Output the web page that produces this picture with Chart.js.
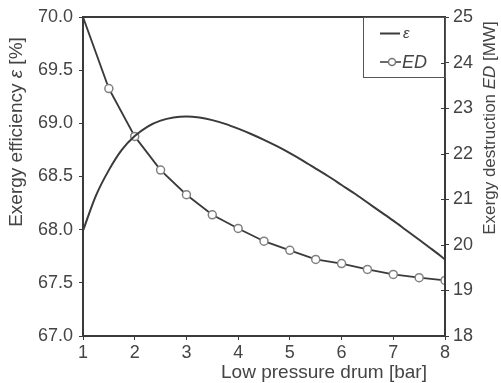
<!DOCTYPE html>
<html>
<head>
<meta charset="utf-8">
<script src="https://cdn.jsdelivr.net/npm/chart.js@4.4.1/dist/chart.umd.min.js"></script>
<style>
  html, body { margin: 0; padding: 0; background: #fff; }
  #wrap { width: 501px; height: 383px; }
</style>
</head>
<body>
<div id="wrap"><canvas id="chart"></canvas></div>
<script>
// Low pressure drum pressure [bar] for the efficiency curve
const pressure = [1, 1.25, 1.5, 1.75, 2, 2.25, 2.5, 2.75, 3, 3.25, 3.5, 3.75, 4, 4.25, 4.5,
  4.75, 5, 5.25, 5.5, 5.75, 6, 6.25, 6.5, 6.75, 7, 7.25, 7.5, 7.75, 8];
// Exergy efficiency [%]
const efficiency = [67.99, 68.32, 68.56, 68.75, 68.88, 68.97, 69.025, 69.055, 69.065, 69.055,
  69.03, 68.995, 68.95, 68.90, 68.845, 68.785, 68.72, 68.65, 68.575, 68.50, 68.42, 68.34,
  68.255, 68.17, 68.085, 67.995, 67.905, 67.815, 67.72];
// pressure points with markers, and exergy destruction [MW]
const edPressure = [1, 1.5, 2, 2.5, 3, 3.5, 4, 4.5, 5, 5.5, 6, 6.5, 7, 7.5, 8];
const destruction = [25.0, 23.43, 22.38, 21.64, 21.10, 20.66, 20.36, 20.08, 19.88, 19.68, 19.59,
  19.46, 19.35, 19.28, 19.22];

const xTitle = 'Low pressure drum [bar]';
const leftTitle = [['Exergy efficiency ', false], ['ε', true], [' [%]', false]];
const rightTitle = [['Exergy destruction ', false], ['ED', true], [' [MW]', false]];

const ink = '#3a3a3a';
const textCol = '#444';
const fam = '"Liberation Sans", Arial, sans-serif';

function drawRich(ctx, parts, size, cx, cy, rot) {
  ctx.save();
  ctx.translate(cx, cy);
  ctx.rotate(rot);
  ctx.fillStyle = textCol;
  ctx.textBaseline = 'middle';
  ctx.textAlign = 'left';
  let total = 0;
  parts.forEach(p => {
    ctx.font = (p[1] ? 'italic ' : '') + size + 'px ' + fam;
    total += ctx.measureText(p[0]).width;
  });
  let x = -total / 2;
  parts.forEach(p => {
    ctx.font = (p[1] ? 'italic ' : '') + size + 'px ' + fam;
    ctx.fillText(p[0], x, 0);
    x += ctx.measureText(p[0]).width;
  });
  ctx.restore();
}

const decor = {
  id: 'decor',
  afterDraw(chart) {
    const ctx = chart.ctx;
    const a = chart.chartArea;
    ctx.save();
    // frame around the plot
    ctx.strokeStyle = ink;
    ctx.lineWidth = 2;
    ctx.strokeRect(a.left, a.top, a.right - a.left, a.bottom - a.top);

    // right axis ticks also poke inside the frame
    const r = chart.scales.y2;
    ctx.lineWidth = 1;
    r.ticks.forEach(t => {
      const py = Math.round(r.getPixelForValue(t.value)) + 0.5;
      ctx.beginPath();
      ctx.moveTo(a.right - 4, py);
      ctx.lineTo(a.right, py);
      ctx.stroke();
    });

    // titles
    drawRich(ctx, leftTitle, 19, 17, 132, -Math.PI / 2);
    drawRich(ctx, rightTitle, 17, 490, 128, -Math.PI / 2);
    drawRich(ctx, [[xTitle, false]], 19, 324, 373, 0);

    // legend box
    const bx = a.right - 82, by = a.top, bw = 82, bh = 60;
    ctx.strokeStyle = '#555';
    ctx.lineWidth = 1;
    ctx.strokeRect(bx + 0.5, by + 0.5, bw, bh);
    const ds = chart.data.datasets;
    ctx.strokeStyle = ink;
    ctx.lineWidth = 2;
    ctx.beginPath();
    ctx.moveTo(bx + 17, by + 16.5);
    ctx.lineTo(bx + 37, by + 16.5);
    ctx.stroke();
    ctx.lineWidth = 1.5;
    ctx.beginPath();
    ctx.moveTo(bx + 17, by + 45);
    ctx.lineTo(bx + 38, by + 45);
    ctx.stroke();
    ctx.beginPath();
    ctx.arc(bx + 29, by + 45, 3.5, 0, Math.PI * 2);
    ctx.fillStyle = '#fff';
    ctx.fill();
    ctx.strokeStyle = '#777';
    ctx.stroke();
    ctx.fillStyle = textCol;
    ctx.textBaseline = 'middle';
    ctx.font = 'italic 15px ' + fam;
    ctx.fillText(ds[0].label, bx + 40, by + 17);
    ctx.font = 'italic 18px ' + fam;
    ctx.fillText(ds[1].label, bx + 39, by + 46);
    ctx.restore();
  }
};

const tickFont = { family: fam, size: 18 };

new Chart(document.getElementById('chart'), {
  type: 'line',
  data: {
    datasets: [{
      label: 'ε',
      data: pressure.map((p, i) => ({ x: p, y: efficiency[i] })),
      yAxisID: 'y',
      borderColor: ink,
      borderWidth: 2,
      pointRadius: 0,
      cubicInterpolationMode: 'monotone'
    }, {
      label: 'ED',
      data: edPressure.map((p, i) => ({ x: p, y: destruction[i] })),
      yAxisID: 'y2',
      borderColor: ink,
      borderWidth: 1.8,
      pointRadius: edPressure.map((p, i) => i === 0 ? 0 : 4),
      pointBackgroundColor: '#fff',
      pointBorderColor: '#808080',
      pointBorderWidth: 1.5,
      tension: 0
    }]
  },
  options: {
    responsive: true,
    maintainAspectRatio: false,
    animation: false,
    layout: { padding: { top: 17, left: 0, right: 0, bottom: 0 } },
    plugins: {
      legend: { display: false },
      tooltip: { enabled: false }
    },
    scales: {
      x: {
        type: 'linear',
        min: 1, max: 8,
        ticks: { stepSize: 1, font: tickFont, color: textCol, padding: 2 },
        grid: { drawOnChartArea: false, tickLength: 4, color: ink },
        border: { color: ink, width: 2 },
        afterFit: s => { s.height = 47; }
      },
      y: {
        position: 'left',
        min: 67, max: 70,
        ticks: { stepSize: 0.5, font: tickFont, color: textCol, padding: 6,
          callback: v => v.toFixed(1) },
        grid: { drawOnChartArea: false, tickLength: 4, color: ink },
        border: { color: ink, width: 2 },
        afterFit: s => { s.width = 83; }
      },
      y2: {
        position: 'right',
        min: 18, max: 25,
        ticks: { stepSize: 1, font: tickFont, color: textCol, padding: 4 },
        grid: { drawOnChartArea: false, tickLength: 4, color: ink },
        border: { color: ink, width: 2 },
        afterFit: s => { s.width = 56; }
      }
    }
  },
  plugins: [decor]
});
</script>
</body>
</html>
